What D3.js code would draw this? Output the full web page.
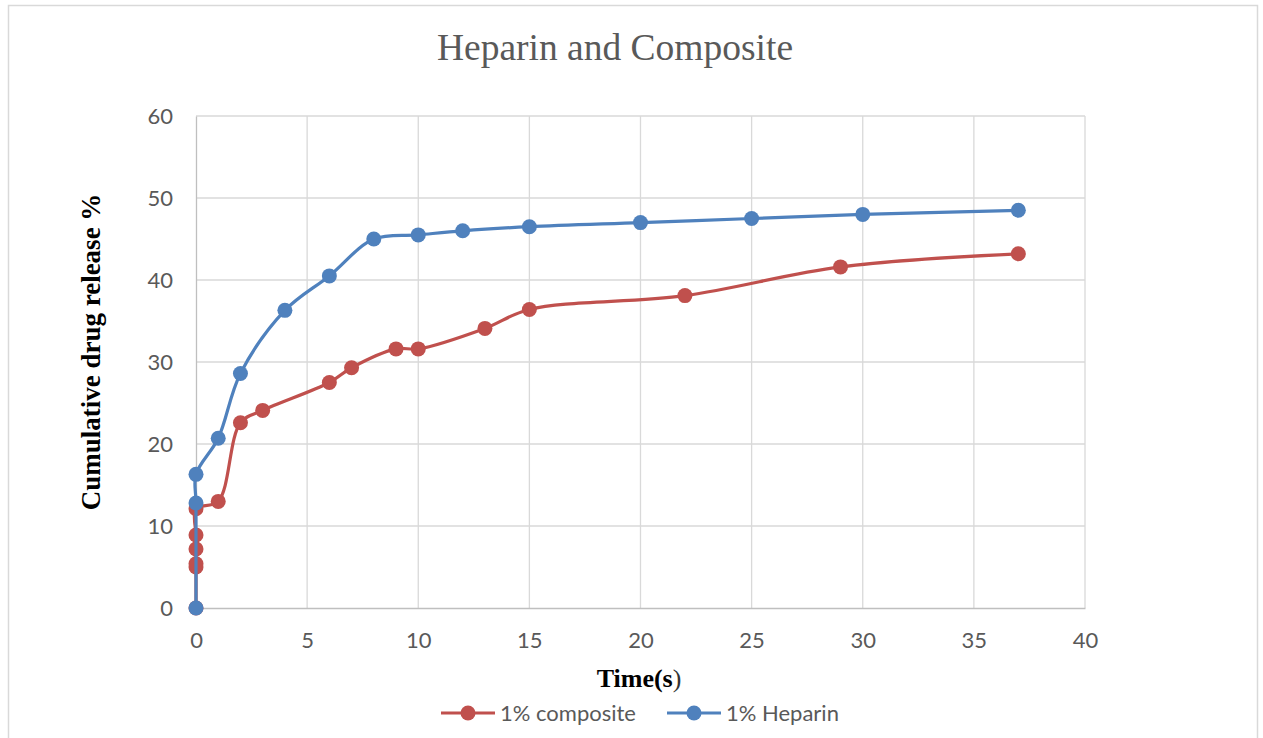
<!DOCTYPE html>
<html>
<head>
<meta charset="utf-8">
<script src="https://cdn.jsdelivr.net/npm/d3@7/dist/d3.min.js"></script>
<style>
  html, body { margin: 0; padding: 0; background: #fff; }
  svg { display: block; }
</style>
</head>
<body>
<svg id="chart" width="1263" height="738"></svg>
<script>
// Cumulative drug release over time for the two formulations
const compositeTime = [0, 0, 0, 0, 0, 0, 1, 2, 3, 6, 7, 9, 10, 13, 15, 22, 29, 37];
const compositeRelease = [0, 5.0, 5.4, 7.2, 8.9, 12.1, 13.0, 22.6, 24.1, 27.5, 29.3, 31.6, 31.6, 34.1, 36.4, 38.1, 41.6, 43.2];

const heparinTime = [0, 0, 0, 1, 2, 4, 6, 8, 10, 12, 15, 20, 25, 30, 37];
const heparinRelease = [0, 12.8, 16.3, 20.7, 28.6, 36.3, 40.5, 45.0, 45.5, 46.0, 46.5, 47.0, 47.5, 48.0, 48.5];

const xTicks = [0, 5, 10, 15, 20, 25, 30, 35, 40];
const yTicks = [0, 10, 20, 30, 40, 50, 60];

const seriesNames = ["1% composite", "1% Heparin"];
const seriesColors = ["#c0504d", "#4f81bd"];

const svg = d3.select("#chart");

// chart frame
svg.append("rect")
  .attr("x", 8.5).attr("y", 5.5)
  .attr("width", 1249).attr("height", 760)
  .attr("fill", "#fff").attr("stroke", "#d9d9d9").attr("stroke-width", 1.5);

const plot = { left: 196, right: 1085, top: 116, bottom: 608 };

const x = d3.scaleLinear().domain([0, 40]).range([plot.left, plot.right]);
const y = d3.scaleLinear().domain([0, 60]).range([plot.bottom, plot.top]);

// gridlines
const grid = svg.append("g");
grid.selectAll("line.h").data(yTicks.filter(d => d > 0)).enter().append("line")
  .attr("x1", plot.left).attr("x2", plot.right)
  .attr("y1", d => y(d)).attr("y2", d => y(d))
  .attr("stroke", "#d9d9d9").attr("stroke-width", 1.3);
grid.selectAll("line.v").data(xTicks.filter(d => d > 0)).enter().append("line")
  .attr("y1", plot.top).attr("y2", plot.bottom)
  .attr("x1", d => x(d)).attr("x2", d => x(d))
  .attr("stroke", "#d9d9d9").attr("stroke-width", 1.3);

// axes
const xAxis = svg.append("g")
  .attr("transform", `translate(0,${plot.bottom})`)
  .call(d3.axisBottom(x).tickValues(xTicks).tickSize(0).tickPadding(24));
const yAxis = svg.append("g")
  .attr("transform", `translate(${plot.left},0)`)
  .call(d3.axisLeft(y).tickValues(yTicks).tickSize(0).tickPadding(23));

[xAxis, yAxis].forEach(g => {
  g.select(".domain").attr("stroke", "#bfbfbf").attr("stroke-width", 1.3);
  g.selectAll("text")
    .attr("fill", "#595959")
    .style("font-family", "Lato, 'Open Sans', sans-serif")
    .style("font-size", "22px");
});
yAxis.selectAll("text").attr("dy", "0.35em");

// series
const line = d3.line()
  .x(d => x(d[0]))
  .y(d => y(d[1]))
  .curve(d3.curveCatmullRom.alpha(0.5));

const series = [
  d3.zip(compositeTime, compositeRelease),
  d3.zip(heparinTime, heparinRelease)
];

series.forEach((pts, i) => {
  const g = svg.append("g");
  g.append("path")
    .datum(pts)
    .attr("d", line)
    .attr("fill", "none")
    .attr("stroke", seriesColors[i])
    .attr("stroke-width", 3.2)
    .attr("stroke-linejoin", "round");
  g.selectAll("circle").data(pts).enter().append("circle")
    .attr("cx", d => x(d[0]))
    .attr("cy", d => y(d[1]))
    .attr("r", 7.5)
    .attr("fill", seriesColors[i]);
});

// title
svg.append("text")
  .attr("x", 615).attr("y", 60)
  .attr("text-anchor", "middle")
  .attr("fill", "#595959")
  .style("font-family", "'Liberation Serif', 'Times New Roman', serif")
  .style("font-size", "37.5px")
  .text("Heparin and Composite");

// axis titles
svg.append("text")
  .attr("transform", "translate(100,352) rotate(-90)")
  .attr("text-anchor", "middle")
  .attr("fill", "#000")
  .style("font-family", "'Liberation Serif', 'Times New Roman', serif")
  .style("font-size", "27px")
  .style("font-weight", "bold")
  .text("Cumulative drug release %");

const xt = svg.append("text")
  .attr("x", 639).attr("y", 687)
  .attr("text-anchor", "middle")
  .attr("fill", "#000")
  .style("font-family", "'Liberation Serif', 'Times New Roman', serif")
  .style("font-size", "26px");
xt.append("tspan").style("font-weight", "bold").text("Time(s");
xt.append("tspan").attr("fill", "#333").text(")");

// legend
const legendX = [441, 667];
seriesNames.forEach((name, i) => {
  const g = svg.append("g").attr("transform", `translate(${legendX[i]},713)`);
  g.append("line").attr("x1", 0).attr("x2", 54).attr("y1", 0).attr("y2", 0)
    .attr("stroke", seriesColors[i]).attr("stroke-width", 3.2);
  g.append("circle").attr("cx", 27).attr("cy", 0).attr("r", 7.5).attr("fill", seriesColors[i]);
  g.append("text").attr("x", 59).attr("y", 0).attr("dy", "0.35em")
    .attr("fill", "#595959")
    .style("font-family", "Lato, 'Open Sans', sans-serif")
    .style("font-size", "22px")
    .text(name);
});
</script>
</body>
</html>
